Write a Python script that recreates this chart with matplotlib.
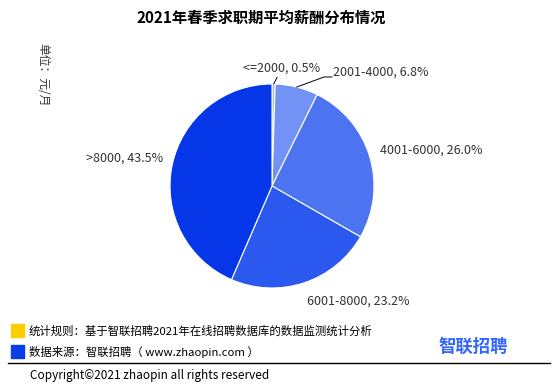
import matplotlib
matplotlib.use("Agg")
import matplotlib.pyplot as plt
from matplotlib.lines import Line2D
import numpy as np

plt.rcParams['font.family'] = ['Noto Sans CJK SC', 'DejaVu Sans']

# data
categories = ["<=2000", "2001-4000", "4001-6000", "6001-8000", ">8000"]
shares = [0.5, 6.8, 26.0, 23.2, 43.5]
colors = ["#a3b9f8", "#7293f5", "#4d74f0", "#2b58ef", "#0536e8"]

title = "2021年春季求职期平均薪酬分布情况"
unit = "单位：元/月"
note_rule = "统计规则：基于智联招聘2021年在线招聘数据库的数据监测统计分析"
note_source = "数据来源：智联招聘（ www.zhaopin.com ）"
copyright_txt = "Copyright©2021 zhaopin all rights reserved"
logo = "智联招聘"

W, H = 554, 392
fig = plt.figure(figsize=(W / 100, H / 100), dpi=100)

# pie axes: center (272,186) px, radius 102 px
cx, cy, r = 272, 186, 102
ax = fig.add_axes([(cx - r) / W, (H - cy - r) / H, 2 * r / W, 2 * r / H])
wedges, _ = ax.pie(shares, colors=colors, startangle=90, counterclock=False,
                   wedgeprops=dict(edgecolor="white", linewidth=0.8))
ax.set_xlim(-1, 1)
ax.set_ylim(-1, 1)
ax.set_aspect("equal")
ax.axis("off")

txt_col = "#333333"
fs = 9

def px(x, y):
    # pixel position -> pie data coords
    return ((x - cx) / r, (cy - y) / r)

def mid_point(w, rad=1.0):
    a = np.deg2rad((w.theta1 + w.theta2) / 2)
    return (rad * np.cos(a), rad * np.sin(a))

labels = [f"{c}, {s}%" for c, s in zip(categories, shares)]

# <=2000
ax.annotate(labels[0], xy=mid_point(wedges[0]), xytext=px(282, 68),
            ha="center", va="center", fontsize=fs, color=txt_col,
            arrowprops=dict(arrowstyle="-", color="black", lw=0.7,
                            shrinkA=6, shrinkB=0), annotation_clip=False)
# 2001-4000 with elbow
p1 = mid_point(wedges[1])
e = px(324, 77)
ax.add_line(Line2D([p1[0], e[0], px(332, 77)[0]], [p1[1], e[1], e[1]],
                   color="black", lw=0.7, clip_on=False))
ax.text(*px(333, 72), labels[1], ha="left", va="center", fontsize=fs,
        color=txt_col, clip_on=False)
ax.text(*px(380, 150), labels[2], ha="left", va="center", fontsize=fs,
        color=txt_col, clip_on=False)
ax.text(*px(307, 301), labels[3], ha="left", va="center", fontsize=fs,
        color=txt_col, clip_on=False)
ax.text(*px(163, 158), labels[4], ha="right", va="center", fontsize=fs,
        color=txt_col, clip_on=False)

# title and unit
fig.text(261 / W, 1 - 18 / H, title, ha="center", va="center",
         fontsize=11, fontweight="bold", color="black")
fig.text(43 / W, 1 - 75 / H, unit, ha="center", va="center",
         rotation=-90, fontsize=8.5, color=txt_col)

# notes with coloured squares
for y, col, t in [(331, "#ffcc00", note_rule), (352, "#0a3ce8", note_source)]:
    fig.patches.append(plt.Rectangle((11 / W, 1 - (y + 6) / H), 13 / W, 13 / H,
                                     transform=fig.transFigure, color=col))
    fig.text(29 / W, 1 - y / H, t, ha="left", va="center", fontsize=8.2,
             color="black")

fig.text(473 / W, 1 - 347 / H, logo, ha="center", va="center", fontsize=12.5,
         fontweight="bold", color="#3366ff")

fig.add_artist(Line2D([8 / W, 550 / W], [1 - 363 / H, 1 - 363 / H],
                      color="black", lw=1, transform=fig.transFigure))
fig.text(30 / W, 1 - 376 / H, copyright_txt, ha="left", va="center",
         fontsize=8.5, color="black")

fig.savefig("out.png", dpi=100)
